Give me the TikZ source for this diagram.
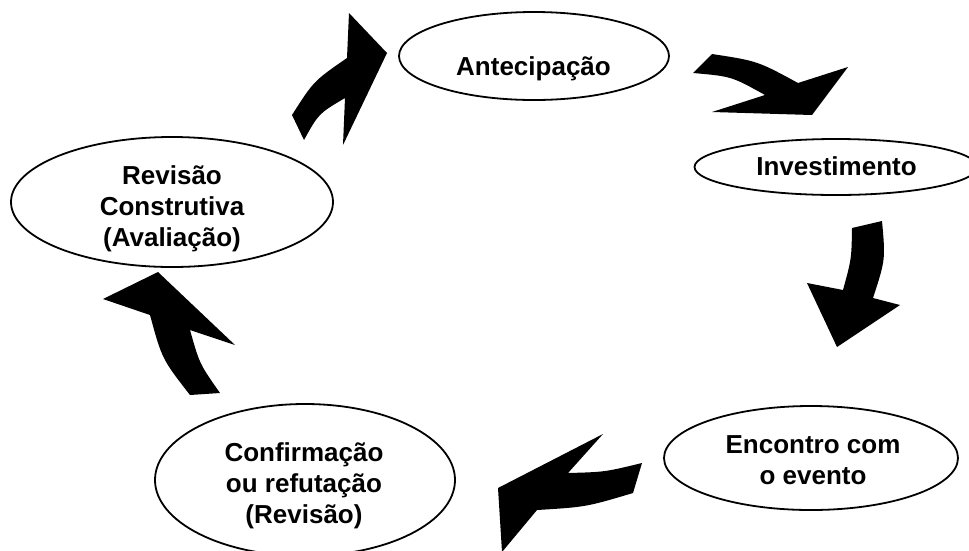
\documentclass[tikz,border=0pt]{standalone}
\usepackage{fontspec}
\setmainfont{Liberation Sans}
\usetikzlibrary{shapes.geometric}
\begin{document}
\begin{tikzpicture}[x=1pt,y=-1pt,
  ell/.style={draw, ellipse, line width=1.8pt, inner sep=0pt},
  lbl/.style={font=\fontsize{26}{31}\selectfont\bfseries, align=center, inner sep=0pt},
  blk/.style={fill=black}]
\clip (0,0) rectangle (969,550);
\fill[white] (0,0) rectangle (969,550);
% ellipses
\node[ell, minimum width=270pt, minimum height=88pt] (antE) at (534,56) {};
\node[ell, minimum width=283pt, minimum height=56pt] (invE) at (836,167) {};
\node[ell, minimum width=322pt, minimum height=130pt] (revE) at (172,202) {};
\node[ell, minimum width=300pt, minimum height=152pt] (conE) at (305,480) {};
\node[ell, minimum width=294pt, minimum height=104pt] (encE) at (811,458) {};
% labels
\node[lbl, anchor=base] (ant) at (533.5,75) {Antecipação};
\node[lbl, anchor=base] (inv) at (836.5,175) {Investimento};
\node[lbl] (rev) at (172,209) {Revisão\\Construtiva\\(Avaliação)};
\node[lbl] (con) at (304,486) {Confirmação\\ou refutação\\(Revisão)};
\node[lbl] (enc) at (813,460) {Encontro com\\o evento};
% block arrows
\fill[blk] (292,115) .. controls (313.7,81) .. (347,58) -- (349,13) -- (387,53) -- (343,145) -- (345,98) .. controls (318.7,113.5) .. (304,140) -- cycle;
\fill[blk] (712,54) .. controls (757.6,61) .. (798,83) -- (848,67) -- (812,115) -- (712,112) -- (765,95) .. controls (731.6,76.4) .. (693,73) -- cycle;
\fill[blk] (852,228) -- (882,221) .. controls (885.5,259.5) .. (873,298) -- (900,305) -- (837,347) -- (807,283) -- (843,290) .. controls (851.5,259) .. (852,228) -- cycle;
\fill[blk] (642,463) -- (633,493) .. controls (586,507) .. (537,510) -- (502,552) -- (498,488) -- (603,434) -- (568,473) .. controls (605,472) .. (642,463) -- cycle;
\fill[blk] (190,395) -- (220,393) .. controls (199.6,364) .. (190,330) -- (235,345) -- (158,272) -- (103,299) -- (150,315) .. controls (162,359) .. (190,395) -- cycle;
\end{tikzpicture}
\end{document}
